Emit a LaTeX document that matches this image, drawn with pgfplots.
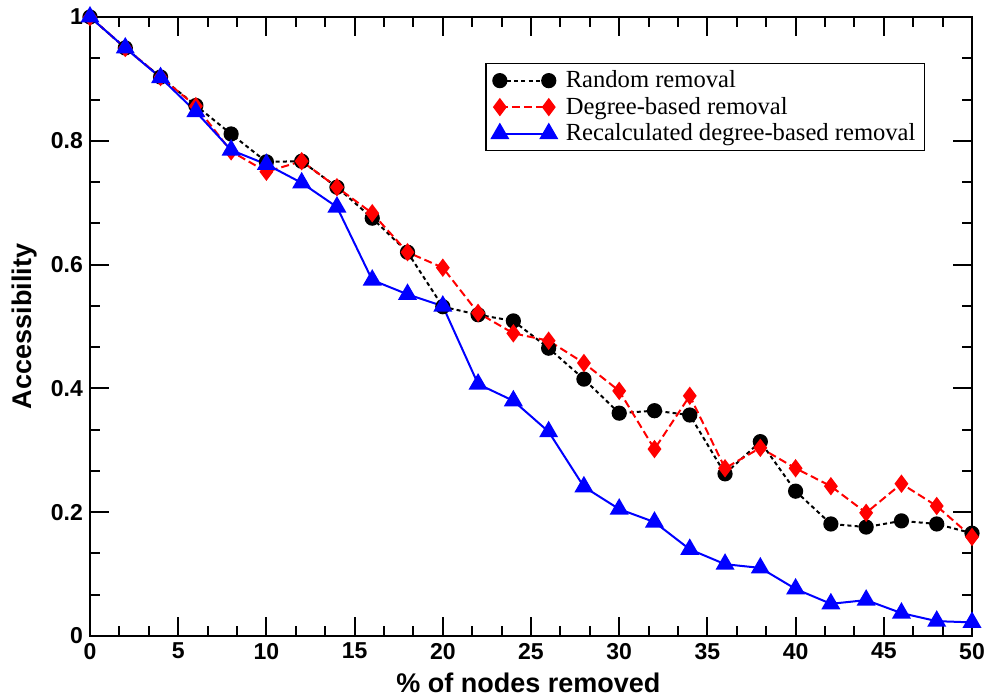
\documentclass[border=0pt]{standalone}
\usepackage{fontspec}
\setmainfont{Liberation Sans}
\newfontfamily\legfont{Liberation Serif}
\usepackage{pgfplots}
\pgfplotsset{compat=1.18}
\begin{document}
\begin{tikzpicture}
\begin{axis}[
  scale only axis, width=441pt, height=309.5pt,
  xmin=0, xmax=50, ymin=0, ymax=1,
  xtick={0,5,10,15,20,25,30,35,40,45,50},
  ytick={0,0.2,0.4,0.6,0.8,1},
  minor x tick num=2, minor y tick num=2,
  tick align=inside, major tick length=9.5pt, minor tick length=5pt,
  every tick/.style={black, line width=1pt},
  axis line style={line width=1pt},
  ticklabel style={font=\fontsize{11.5}{12}\selectfont\bfseries},
  /pgf/number format/assume math mode=true,
  xlabel={\% of nodes removed}, ylabel={Accessibility},
  label style={font=\fontsize{13.5}{15}\selectfont\bfseries},
  xlabel style={at={(axis description cs:0.497,-0.076)}, anchor=center},
  ylabel style={at={(axis description cs:-0.0737,0.5)}, anchor=center},
  clip=false,
  legend style={at={(rel axis cs:0.947,0.926)}, anchor=north east,
    font=\legfont\fontsize{12.3}{13}\selectfont, draw=black, line width=0.6pt,
    inner xsep=3pt, inner ysep=2pt, row sep=0pt, column sep=3pt,
    nodes={inner sep=1.6pt}},
  legend cell align=left,
  legend image code/.code={\draw[mark repeat=1] plot coordinates {(0cm,0cm) (0.86cm,0cm)};},
]
\addplot[black, line width=1pt, dash pattern=on 2pt off 1.6pt, mark=*, mark size=3.3pt, mark options={solid, fill=black}]
coordinates {(0,1.0)(2,0.95)(4,0.903)(6,0.857)(8,0.811)(10,0.766)(12,0.767)(14,0.725)(16,0.675)(18,0.620)(20,0.532)(22,0.519)(24,0.509)(26,0.465)(28,0.415)(30,0.360)(32,0.364)(34,0.357)(36,0.262)(38,0.314)(40,0.234)(42,0.181)(44,0.176)(46,0.186)(48,0.181)(50,0.166)};
\addlegendentry{Random removal}
\addplot[red, line width=1pt, dash pattern=on 4pt off 2pt, mark=diamond*, mark size=3.8pt, mark options={solid, fill=red}]
coordinates {(0,1.0)(2,0.95)(4,0.903)(6,0.856)(8,0.783)(10,0.750)(12,0.767)(14,0.725)(16,0.683)(18,0.620)(20,0.595)(22,0.522)(24,0.489)(26,0.477)(28,0.441)(30,0.396)(32,0.302)(34,0.388)(36,0.271)(38,0.304)(40,0.271)(42,0.242)(44,0.199)(46,0.246)(48,0.210)(50,0.160)};
\addlegendentry{Degree-based removal}
\addplot[blue, line width=1pt, solid, mark=triangle*, mark size=4.5pt, mark options={solid, fill=blue}]
coordinates {(0,1.0)(2,0.95)(4,0.902)(6,0.847)(8,0.785)(10,0.762)(12,0.732)(14,0.693)(16,0.575)(18,0.552)(20,0.533)(22,0.407)(24,0.380)(26,0.330)(28,0.241)(30,0.205)(32,0.184)(34,0.140)(36,0.116)(38,0.110)(40,0.076)(42,0.052)(44,0.058)(46,0.037)(48,0.024)(50,0.022)};
\addlegendentry{Recalculated degree-based removal}
\end{axis}
\pgfresetboundingbox
\path ([shift={(-45pt,-30.5pt)}]current axis.south west) rectangle ([shift={(8.5pt,8.5pt)}]current axis.north east);
\end{tikzpicture}
\end{document}
